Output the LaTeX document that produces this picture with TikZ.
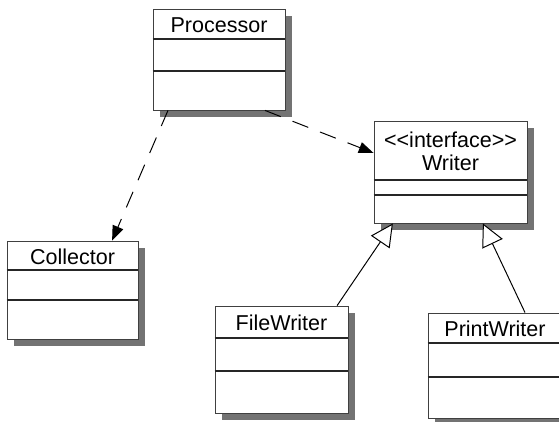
\documentclass[tikz,border=0pt]{standalone}
\usepackage{fontspec}
\newfontfamily\umlfont{Liberation Sans}
\usetikzlibrary{arrows.meta,shadows}

\tikzset{
  classbox/.style={draw=black!75, line width=0.6pt, fill=white, inner sep=0pt,
    drop shadow={shadow xshift=5pt, shadow yshift=-5pt, fill=black!55, opacity=1}},
  classname/.style={font=\umlfont\fontsize{15.3}{18}\selectfont, inner sep=0pt},
  divider/.style={black!85, line width=0.8pt},
  depends/.style={dashed, dash pattern=on 12pt off 9pt, line width=0.7pt,
    -{Triangle[length=10.5pt,width=8pt]}},
  realizes/.style={line width=0.7pt, -{Triangle[open,length=16pt,width=16pt,fill=white]}}
}

\begin{document}
\begin{tikzpicture}[x=0.025cm, y=-0.025cm]
    \useasboundingbox (0,0) rectangle (559,421);

    % Processor
    \node[classbox, minimum width=3.3cm, minimum height=2.525cm] (proc) at (219,59.5) {};
    \node[classname] (procname) at (219,25) {Processor};
    \draw[divider] (proc.west |- 0,39) -- (proc.east |- 0,39);
    \draw[divider] (proc.west |- 0,71) -- (proc.east |- 0,71);

    % Writer (interface)
    \node[classbox, minimum width=3.825cm, minimum height=2.55cm] (writer) at (450.5,172) {};
    \node[classname] (writerstereo) at (450.5,140) {<\kern0pt<interface>\kern0pt>};
    \node[classname] (writername) at (450.5,163) {Writer};
    \draw[divider] (writer.west |- 0,180) -- (writer.east |- 0,180);
    \draw[divider] (writer.west |- 0,195) -- (writer.east |- 0,195);

    % Collector
    \node[classbox, minimum width=3.275cm, minimum height=2.45cm] (coll) at (72.5,290) {};
    \node[classname] (collname) at (72.5,257) {Collector};
    \draw[divider] (coll.west |- 0,270) -- (coll.east |- 0,270);
    \draw[divider] (coll.west |- 0,300) -- (coll.east |- 0,300);

    % FileWriter
    \node[classbox, minimum width=3.325cm, minimum height=2.675cm] (fw) at (281.5,359.5) {};
    \node[classname] (fwname) at (281.5,323) {FileWriter};
    \draw[divider] (fw.west |- 0,338) -- (fw.east |- 0,338);
    \draw[divider] (fw.west |- 0,371) -- (fw.east |- 0,371);

    % PrintWriter
    \node[classbox, minimum width=3.35cm, minimum height=2.625cm] (pw) at (495,365.5) {};
    \node[classname] (pwname) at (495,329) {PrintWriter};
    \draw[divider] (pw.west |- 0,343) -- (pw.east |- 0,343);
    \draw[divider] (pw.west |- 0,377) -- (pw.east |- 0,377);

    % dependencies
    \draw[depends] ([xshift=-1.275cm]proc.south) -- ([xshift=0.99cm]coll.north);
    \draw[depends] ([xshift=1.15cm]proc.south) -- ([yshift=0.475cm]writer.west);

    % realizations
    \draw[realizes] ([xshift=1.39cm]fw.north) -- ([xshift=-1.44cm]writer.south);
    \draw[realizes] ([xshift=0.75cm]pw.north) -- ([xshift=0.81cm]writer.south);
\end{tikzpicture}
\end{document}
